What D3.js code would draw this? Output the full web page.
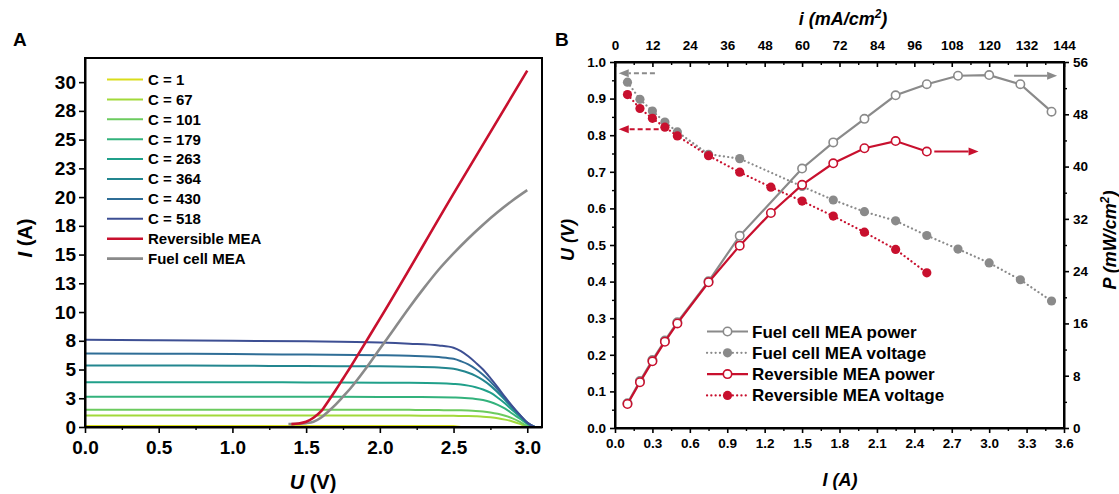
<!DOCTYPE html>
<html>
<head>
<meta charset="utf-8">
<script src="https://cdn.jsdelivr.net/npm/d3@7"></script>
<style>
  body { margin: 0; background: #fff; }
  svg { display: block; font-family: "Liberation Sans", Arial, Helvetica, sans-serif; font-weight: bold; }
</style>
</head>
<body>
<script>
// ---------- Panel A: I–U sweeps of the module after n cycles ----------
const sweepVoltage = [0, 0.5, 1.0, 1.5, 2.0, 2.2, 2.4, 2.5, 2.55, 2.6, 2.65, 2.7, 2.75, 2.8, 2.85, 2.9, 2.95, 3.0, 3.05];
const cycleLabels = ["C = 1", "C = 67", "C = 101", "C = 179", "C = 263", "C = 364", "C = 430", "C = 518"];
const cycleColors = ["#d9dd1c", "#a2d93a", "#6ccb5f", "#33b27c", "#20a08a", "#23868f", "#2f6d96", "#3d4f93"];
const currentC1   = [0.08, 0.08, 0.08, 0.08, 0.08, 0.08, 0.08, 0.08, 0, 0, 0, 0, 0, 0, 0, 0, 0, 0, 0];
const currentC67  = [1.0, 1.0, 1.0, 1.0, 0.99, 0.99, 0.98, 0.97, 0.96, 0.95, 0.93, 0.9, 0.84, 0.76, 0.64, 0.48, 0.27, 0, 0];
const currentC101 = [1.5, 1.5, 1.5, 1.5, 1.49, 1.49, 1.47, 1.46, 1.45, 1.43, 1.4, 1.35, 1.27, 1.15, 0.98, 0.75, 0.45, 0.08, 0];
const currentC179 = [2.64, 2.64, 2.64, 2.63, 2.62, 2.61, 2.59, 2.56, 2.54, 2.5, 2.44, 2.34, 2.18, 1.93, 1.6, 1.15, 0.72, 0.26, 0];
const currentC263 = [3.9, 3.9, 3.9, 3.88, 3.86, 3.85, 3.81, 3.75, 3.7, 3.6, 3.46, 3.26, 2.98, 2.55, 2.05, 1.45, 0.9, 0.33, 0];
const currentC364 = [5.35, 5.35, 5.33, 5.3, 5.28, 5.25, 5.17, 5.06, 4.92, 4.72, 4.45, 4.08, 3.6, 3.0, 2.35, 1.65, 1.0, 0.36, 0];
const currentC430 = [6.4, 6.38, 6.35, 6.3, 6.25, 6.2, 6.08, 5.93, 5.72, 5.45, 5.05, 4.55, 3.95, 3.25, 2.5, 1.75, 1.05, 0.38, 0];
const currentC518 = [7.6, 7.55, 7.5, 7.45, 7.35, 7.25, 7.1, 6.9, 6.6, 6.15, 5.6, 5.0, 4.25, 3.45, 2.6, 1.8, 1.05, 0.4, 0];

const revVoltage = [1.4, 1.45, 1.5, 1.55, 1.6, 1.65, 1.7, 1.75, 1.8, 1.9, 2.0, 2.5, 3.0];
const revCurrent = [0.25, 0.3, 0.45, 0.8, 1.35, 2.25, 3.2, 4.2, 5.2, 7.3, 9.4, 20.3, 31.0];
const fcVoltage  = [1.38, 1.45, 1.5, 1.55, 1.6, 1.65, 1.7, 1.75, 1.8, 1.9, 2.0, 2.1, 2.2, 2.3, 2.4, 2.5, 2.6, 2.7, 2.8, 2.9, 3.0];
const fcCurrent  = [0.25, 0.28, 0.33, 0.46, 0.8, 1.35, 1.95, 2.64, 3.35, 5.0, 6.8, 8.6, 10.4, 12.1, 13.7, 15.1, 16.4, 17.6, 18.7, 19.7, 20.6];

const xTicksA = [0, 0.5, 1.0, 1.5, 2.0, 2.5, 3.0];
const yTicksA = [0, 2.5, 5, 7.5, 10, 12.5, 15, 17.5, 20, 22.5, 25, 27.5, 30];

// ---------- Panel B: polarisation and power density ----------
const fcCurrentB   = [0.1, 0.2, 0.3, 0.4, 0.5, 0.75, 1.0, 1.5, 1.75, 2.0, 2.25, 2.5, 2.75, 3.0, 3.25, 3.5];
const fcVoltageB   = [0.945, 0.898, 0.866, 0.836, 0.809, 0.748, 0.736, 0.66, 0.623, 0.591, 0.566, 0.526, 0.489, 0.451, 0.405, 0.347];
const fcPowerB     = [3.78, 7.18, 10.39, 13.38, 16.18, 22.44, 29.4, 39.7, 43.7, 47.3, 50.9, 52.6, 53.9, 54.0, 52.6, 48.4];
const revCurrentB  = [0.1, 0.2, 0.3, 0.4, 0.5, 0.75, 1.0, 1.25, 1.5, 1.75, 2.0, 2.25, 2.5];
const revVoltageB  = [0.911, 0.873, 0.846, 0.822, 0.798, 0.744, 0.699, 0.658, 0.620, 0.579, 0.535, 0.488, 0.424];
const revPowerB    = [3.67, 7.0, 10.2, 13.2, 16.0, 22.3, 27.9, 32.9, 37.2, 40.5, 42.8, 43.9, 42.3];

const xTicksB   = d3.range(0, 13).map(k => k * 0.3);
const yTicksB   = d3.range(0, 11).map(k => k * 0.1);
const topTicksB = d3.range(0, 13).map(k => k * 12);
const pTicksB   = d3.range(0, 8).map(k => k * 8);
const legendB   = ["Fuel cell MEA power", "Fuel cell MEA voltage", "Reversible MEA power", "Reversible MEA voltage"];

const RED = "#c8102e";
const GRAY = "#8a8a8a";

const svg = d3.select("body").append("svg").attr("width", 1119).attr("height", 494);

function styleAxis(g, fontSize) {
  g.attr("font-family", null).attr("font-size", fontSize);
  g.select(".domain").attr("stroke", "#000").attr("stroke-width", 2);
  g.selectAll(".tick line").attr("stroke", "#000").attr("stroke-width", 1.6);
  g.selectAll(".tick text").attr("fill", "#000").attr("font-weight", "bold");
}
function minorAxis(g) {
  g.select(".domain").remove();
  g.selectAll(".tick line").attr("stroke", "#000").attr("stroke-width", 1.4);
}

// ===================== Panel A =====================
const xA = d3.scaleLinear().domain([0, 3.1]).range([85, 542]);
const yA = d3.scaleLinear().domain([0, 32.1]).range([427, 58]);

const gA = svg.append("g");
const lineA = d3.line().x(d => xA(d[0])).y(d => yA(d[1])).curve(d3.curveMonotoneX);

const cycleCurrents = [currentC1, currentC67, currentC101, currentC179, currentC263, currentC364, currentC430, currentC518];
cycleCurrents.forEach((arr, k) => {
  gA.append("path")
    .datum(sweepVoltage.map((u, j) => [u, arr[j]]))
    .attr("d", lineA).attr("fill", "none")
    .attr("stroke", cycleColors[k]).attr("stroke-width", 2);
});
gA.append("path").datum(fcVoltage.map((u, j) => [u, fcCurrent[j]]))
  .attr("d", lineA).attr("fill", "none").attr("stroke", GRAY).attr("stroke-width", 2.6);
gA.append("path").datum(revVoltage.map((u, j) => [u, revCurrent[j]]))
  .attr("d", lineA).attr("fill", "none").attr("stroke", RED).attr("stroke-width", 2.6);

// frame + axes
gA.append("rect").attr("x", 85).attr("y", 58).attr("width", 457).attr("height", 369)
  .attr("fill", "none").attr("stroke", "#000").attr("stroke-width", 2);

gA.append("g").attr("transform", "translate(0,427)")
  .call(d3.axisBottom(xA).tickValues([0.25, 0.75, 1.25, 1.75, 2.25, 2.75]).tickFormat("").tickSize(3).tickSizeOuter(0))
  .call(minorAxis);
gA.append("g").attr("transform", "translate(0,427)")
  .call(d3.axisBottom(xA).tickValues(xTicksA).tickFormat(d3.format(".1f")).tickSize(6).tickPadding(8).tickSizeOuter(0))
  .call(g => styleAxis(g, 19));
gA.append("g").attr("transform", "translate(85,0)")
  .call(d3.axisLeft(yA).tickValues(yTicksA).tickFormat(d => d.toFixed(0)).tickSize(6).tickPadding(3).tickSizeOuter(0))
  .call(g => styleAxis(g, 19));

// axis titles
const tA = gA.append("text").attr("transform", "translate(32,238) rotate(-90)")
  .attr("text-anchor", "middle").attr("font-size", 20);
tA.append("tspan").attr("font-style", "italic").text("I");
tA.append("tspan").text(" (A)");
const tAx = gA.append("text").attr("x", 313).attr("y", 489).attr("text-anchor", "middle").attr("font-size", 20);
tAx.append("tspan").attr("font-style", "italic").text("U");
tAx.append("tspan").text(" (V)");

gA.append("text").attr("x", 13).attr("y", 46).attr("font-size", 19).text("A");

// legend
const legA = cycleLabels.map((t, k) => ({ t, c: cycleColors[k], w: 2 }))
  .concat([{ t: "Reversible MEA", c: RED, w: 2.6 }, { t: "Fuel cell MEA", c: GRAY, w: 2.6 }]);
const lg = gA.append("g");
legA.forEach((d, k) => {
  const y = 79.5 + k * 19.9;
  lg.append("line").attr("x1", 107).attr("x2", 143).attr("y1", y).attr("y2", y)
    .attr("stroke", d.c).attr("stroke-width", d.w);
  lg.append("text").attr("x", 148).attr("y", y + 5.3).attr("font-size", 15).text(d.t);
});

// ===================== Panel B =====================
const xB = d3.scaleLinear().domain([0, 3.6]).range([615, 1064]);
const yB = d3.scaleLinear().domain([0, 1.0]).range([428, 62]);
const pB = d3.scaleLinear().domain([0, 56]).range([428, 62]);
const iB = d3.scaleLinear().domain([0, 144]).range([615, 1064]);

const gB = svg.append("g");

const vLine = d3.line().x(d => xB(d[0])).y(d => yB(d[1]));
const pLine = d3.line().x(d => xB(d[0])).y(d => pB(d[1]));

function voltageSeries(cur, vol, color) {
  const pts = cur.map((c, j) => [c, vol[j]]);
  gB.append("path").datum(pts).attr("d", vLine).attr("fill", "none")
    .attr("stroke", color).attr("stroke-width", 2.2).attr("stroke-dasharray", "0.1,4.2").attr("stroke-linecap", "round");
  gB.append("g").selectAll("circle").data(pts).join("circle")
    .attr("cx", d => xB(d[0])).attr("cy", d => yB(d[1])).attr("r", 4.6).attr("fill", color);
}
function powerSeries(cur, pow, color) {
  const pts = cur.map((c, j) => [c, pow[j]]);
  gB.append("path").datum(pts).attr("d", pLine).attr("fill", "none")
    .attr("stroke", color).attr("stroke-width", 2.2);
  gB.append("g").selectAll("circle").data(pts).join("circle")
    .attr("cx", d => xB(d[0])).attr("cy", d => pB(d[1])).attr("r", 4.2)
    .attr("fill", "#fff").attr("stroke", color).attr("stroke-width", 1.6);
}
voltageSeries(fcCurrentB, fcVoltageB, GRAY);
voltageSeries(revCurrentB, revVoltageB, RED);
powerSeries(fcCurrentB, fcPowerB, GRAY);
powerSeries(revCurrentB, revPowerB, RED);

// arrows pointing at the axis each series is read on
function arrow(x1, y1, x2, y2, color, dashed) {
  const dir = Math.sign(x2 - x1);
  const head = 10;
  gB.append("line").attr("x1", x1).attr("y1", y1).attr("x2", x2 - dir * head).attr("y2", y2)
    .attr("stroke", color).attr("stroke-width", 2).attr("stroke-dasharray", dashed ? "5,3" : null);
  gB.append("path")
    .attr("d", `M${x2},${y2} L${x2 - dir * head},${y2 - 4} L${x2 - dir * head},${y2 + 4} Z`)
    .attr("fill", color);
}
arrow(xB(0.32), yB(0.969), xB(0.03), yB(0.969), GRAY, true);
arrow(xB(0.35), yB(0.816), xB(0.03), yB(0.816), RED, true);
arrow(xB(3.2), pB(53.9), xB(3.545), pB(53.9), GRAY, false);
arrow(xB(2.56), pB(42.3), xB(2.915), pB(42.3), RED, false);

// frame
gB.append("rect").attr("x", 615).attr("y", 62).attr("width", 449).attr("height", 366)
  .attr("fill", "none").attr("stroke", "#000").attr("stroke-width", 2);

// bottom axis
gB.append("g").attr("transform", "translate(0,428)")
  .call(d3.axisBottom(xB).tickValues(d3.range(0, 12).map(k => 0.15 + k * 0.3)).tickFormat("").tickSize(3).tickSizeOuter(0))
  .call(minorAxis);
gB.append("g").attr("transform", "translate(0,428)")
  .call(d3.axisBottom(xB).tickValues(xTicksB).tickFormat(d3.format(".1f")).tickSize(5).tickPadding(5).tickSizeOuter(0))
  .call(g => styleAxis(g, 13.5));
// left axis
gB.append("g").attr("transform", "translate(615,0)")
  .call(d3.axisLeft(yB).tickValues(d3.range(0, 10).map(k => 0.05 + k * 0.1)).tickFormat("").tickSize(3).tickSizeOuter(0))
  .call(minorAxis);
gB.append("g").attr("transform", "translate(615,0)")
  .call(d3.axisLeft(yB).tickValues(yTicksB).tickFormat(d3.format(".1f")).tickSize(5).tickPadding(4).tickSizeOuter(0))
  .call(g => styleAxis(g, 13.5));
// top axis (ticks point inward)
gB.append("g").attr("transform", "translate(0,62)")
  .call(d3.axisTop(iB).tickValues(d3.range(0, 12).map(k => 6 + k * 12)).tickFormat("").tickSize(-3).tickSizeOuter(0))
  .call(minorAxis);
gB.append("g").attr("transform", "translate(0,62)")
  .call(d3.axisTop(iB).tickValues(topTicksB).tickFormat(d3.format("d")).tickSize(-5).tickPadding(12).tickSizeOuter(0))
  .call(g => styleAxis(g, 13.5));
// right axis
gB.append("g").attr("transform", "translate(1064,0)")
  .call(d3.axisRight(pB).tickValues(d3.range(0, 7).map(k => 4 + k * 8)).tickFormat("").tickSize(3).tickSizeOuter(0))
  .call(minorAxis);
gB.append("g").attr("transform", "translate(1064,0)")
  .call(d3.axisRight(pB).tickValues(pTicksB).tickFormat(d3.format("d")).tickSize(5).tickPadding(4).tickSizeOuter(0))
  .call(g => styleAxis(g, 13.5));

// axis titles
gB.append("text").attr("x", 840).attr("y", 486).attr("text-anchor", "middle")
  .attr("font-size", 18).attr("font-style", "italic").text("I (A)");
gB.append("text").attr("transform", "translate(574,240) rotate(-90)")
  .attr("text-anchor", "middle").attr("font-size", 18).attr("font-style", "italic").text("U (V)");
const tBt = gB.append("text").attr("x", 843).attr("y", 25).attr("text-anchor", "middle")
  .attr("font-size", 18).attr("font-style", "italic");
tBt.append("tspan").text("i (mA/cm");
tBt.append("tspan").attr("font-size", 12).attr("dy", -7).text("2");
tBt.append("tspan").attr("dy", 7).text(")");
const tBr = gB.append("text").attr("transform", "translate(1116,240) rotate(-90)")
  .attr("text-anchor", "middle").attr("font-size", 18).attr("font-style", "italic");
tBr.append("tspan").text("P (mW/cm");
tBr.append("tspan").attr("font-size", 12).attr("dy", -7).text("2");
tBr.append("tspan").attr("dy", 7).text(")");

gB.append("text").attr("x", 555).attr("y", 46).attr("font-size", 19).text("B");

// legend
const lgB = gB.append("g");
const legStyles = [
  { c: GRAY, dotted: false }, { c: GRAY, dotted: true },
  { c: RED, dotted: false }, { c: RED, dotted: true }
];
legendB.forEach((t, k) => {
  const y = 331.5 + k * 21.3;
  const s = legStyles[k];
  lgB.append("line").attr("x1", 707).attr("x2", 748).attr("y1", y).attr("y2", y)
    .attr("stroke", s.c).attr("stroke-width", 2.2)
    .attr("stroke-dasharray", s.dotted ? "0.1,4.2" : null).attr("stroke-linecap", s.dotted ? "round" : "butt");
  if (s.dotted) {
    lgB.append("circle").attr("cx", 727.5).attr("cy", y).attr("r", 4.6).attr("fill", s.c);
  } else {
    lgB.append("circle").attr("cx", 727.5).attr("cy", y).attr("r", 4.2)
      .attr("fill", "#fff").attr("stroke", s.c).attr("stroke-width", 1.6);
  }
  lgB.append("text").attr("x", 752).attr("y", y + 6).attr("font-size", 17).text(t);
});
</script>
</body>
</html>
